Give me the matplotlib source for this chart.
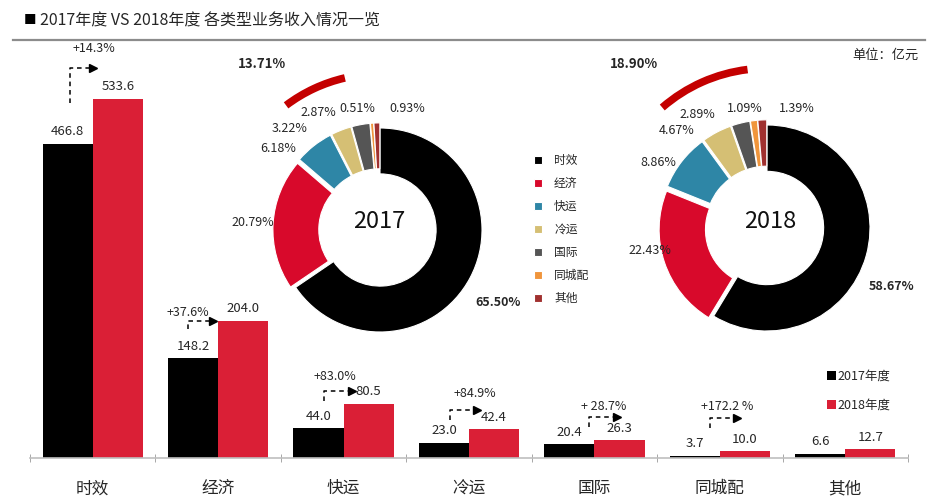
import numpy as np
import matplotlib
matplotlib.use('Agg')
import matplotlib.pyplot as plt
from matplotlib.patches import Arc
from matplotlib.lines import Line2D

plt.rcParams['font.family'] = ['Noto Sans CJK SC', 'DejaVu Sans']

# ---- data ----
categories = ['时效', '经济', '快运', '冷运', '国际', '同城配', '其他']
rev_2017 = [466.8, 148.2, 44.0, 23.0, 20.4, 3.7, 6.6]
rev_2018 = [533.6, 204.0, 80.5, 42.4, 26.3, 10.0, 12.7]
growth = ['+14.3%', '+37.6%', '+83.0%', '+84.9%', '+ 28.7%', '+172.2 %', None]
share_2017 = [65.50, 20.79, 6.18, 3.22, 2.87, 0.51, 0.93]
share_2018 = [58.67, 22.43, 8.86, 4.67, 2.89, 1.09, 1.39]
years = ['2017', '2018']
series_labels = ['2017年度', '2018年度']

RED = '#da1f36'
PIE_COLORS = ['#000000', '#d8092b', '#2e86a6', '#d5bf74', '#555555', '#f0953c', '#a0302f']
TXT = '#262626'

W, H = 952, 504
fig = plt.figure(figsize=(W / 100, H / 100), dpi=100)


def fx(px):
    return px / W


def fy(py):
    return 1 - py / H


# ---- title ----
fig.text(fx(24), fy(21), '■', fontsize=9, va='center', color='black')
fig.text(fx(40), fy(21), '2017年度 VS 2018年度 各类型业务收入情况一览', fontsize=11.5,
         va='center', color=TXT)
fig.add_artist(Line2D([fx(13), fx(925)], [fy(40), fy(40)], color='#8c8c8c', lw=1.6))
fig.text(fx(885), fy(55), '单位：亿元', fontsize=9.5, ha='center', va='center', color=TXT)

# ---- bar chart ----
AX_L, AX_R, AX_T, AX_B = 30, 908, 40, 458
ax = fig.add_axes([fx(AX_L), fy(AX_B), (AX_R - AX_L) / W, (AX_B - AX_T) / H])
y_max = 621
k = y_max / (AX_B - AX_T)           # data units per pixel
cat_w = (AX_R - AX_L) / len(categories)
x = np.arange(len(categories))

b17 = ax.bar(x - 0.2, rev_2017, 0.4, color='black', label=series_labels[0])
b18 = ax.bar(x + 0.2, rev_2018, 0.4, color=RED, label=series_labels[1])
ax.bar_label(b17, fmt='%.1f', padding=4, fontsize=9.5, color=TXT)
ax.bar_label(b18, fmt='%.1f', padding=4, fontsize=9.5, color=TXT)

ax.set_xlim(-0.5, len(categories) - 0.5)
ax.set_ylim(0, y_max)
ax.patch.set_alpha(0)
for s in ['top', 'right', 'left']:
    ax.spines[s].set_visible(False)
ax.spines['bottom'].set_color('#bfbfbf')
ax.spines['bottom'].set_linewidth(1.2)
ax.set_yticks([])
ax.set_xticks(x)
ax.set_xticklabels(categories, fontsize=12, color=TXT)
ax.tick_params(axis='x', which='major', length=0, pad=16)
ax.set_xticks(np.arange(len(categories) + 1) - 0.5, minor=True)
ax.tick_params(axis='x', which='minor', length=6, direction='inout', color='#999999')

# growth arrows: (vertical x offset px, start rise px, end rise px, head x offset px, text rise px, text x offset px)
arrow_layout = [(2, 41, 76, -3, 95, 1),
                (-5, 29, 37, -8, 46, -30),
                (6, 27, 37, 5, 52, -9),
                (6, 23, 33, 5, 49, 6),
                (20, 17, 27, 20, 38, 9),
                (15, 28, 38, 14, 49, 7)]
for i, g in enumerate(growth):
    if g is None:
        continue
    vxo, r0, r1, hxo, tr, txo = arrow_layout[i]
    vx = i - 0.2 + vxo / cat_w
    y0 = rev_2017[i] + r0 * k
    y1 = rev_2017[i] + r1 * k
    hx = i + hxo / cat_w
    ax.plot([vx, vx, hx], [y0, y1, y1], ls=(0, (3, 2.5)), color='black', lw=1.1,
            clip_on=False)
    ax.plot(hx + 3 / cat_w, y1, marker='>', ms=6, color='black', clip_on=False)
    ax.text(i + txo / cat_w, rev_2017[i] + tr * k, g, fontsize=9, ha='center',
            va='center', color=TXT, clip_on=False)

ax.legend([b17, b18], series_labels, loc='upper left', bbox_to_anchor=(fx(827), fy(370)),
          bbox_transform=fig.transFigure, frameon=False, handlelength=0.7, handleheight=0.7,
          handletextpad=0.15, labelspacing=1.25, fontsize=9, borderpad=0, borderaxespad=0,
          labelcolor=TXT)

# ---- donuts ----
pie_layout = [
    dict(c=(380, 230), R=102, arc=(103, 127), arc_r=1.53, center_txt=(379, 222),
         others=(262, 64),
         labels=[(498, 302), (253, 223), (278, 148), (290, 128), (318, 112), (357, 108), (407, 108)]),
    dict(c=(767, 228), R=103, arc=(97, 131), arc_r=1.55, center_txt=(770, 222),
         others=(634, 64),
         labels=[(892, 286), (650, 251), (658, 162), (677, 131), (697, 114), (745, 108), (797, 108)]),
]
lim = 1.8
wedges_first = None
for year, shares, lay in zip(years, [share_2017, share_2018], pie_layout):
    cx, cy = lay['c']
    side = 2 * lim * lay['R']
    pax = fig.add_axes([fx(cx - side / 2), fy(cy + side / 2), side / W, side / H])
    wedges, _ = pax.pie(shares, colors=PIE_COLORS, startangle=90, counterclock=False,
                        explode=[0] + [0.05] * (len(shares) - 1),
                        wedgeprops=dict(width=0.45, edgecolor='white', linewidth=0.8))
    if wedges_first is None:
        wedges_first = wedges
    pax.set_xlim(-lim, lim)
    pax.set_ylim(-lim, lim)
    pax.set_aspect('equal')
    pax.axis('off')
    a1, a2 = lay['arc']
    r = lay['arc_r']
    pax.add_patch(Arc((0, 0), 2 * r, 2 * r, theta1=a1, theta2=a2, lw=5.5, color='#c40000',
                      capstyle='butt'))
    fig.text(fx(lay['center_txt'][0]), fy(lay['center_txt'][1]), year, fontsize=17,
             ha='center', va='center', color='#111111')
    for j, (s, (lx, ly)) in enumerate(zip(shares, lay['labels'])):
        fig.text(fx(lx), fy(ly), f'{s:.2f}%', fontsize=9, ha='center', va='center',
                 color=TXT, fontweight='bold' if j == 0 else 'normal')
    rest = sum(shares[2:])
    fig.text(fx(lay['others'][0]), fy(lay['others'][1]), f'{rest:.2f}%', fontsize=9.5,
             ha='center', va='center', color=TXT, fontweight='bold')

fig.legend(wedges_first, categories, loc='upper left', bbox_to_anchor=(fx(534), fy(154)),
           frameon=False, handlelength=0.7, handleheight=0.7, handletextpad=1.0,
           labelspacing=0.85, fontsize=8.5, borderpad=0, borderaxespad=0, labelcolor=TXT)

fig.savefig('out.png', dpi=100)
